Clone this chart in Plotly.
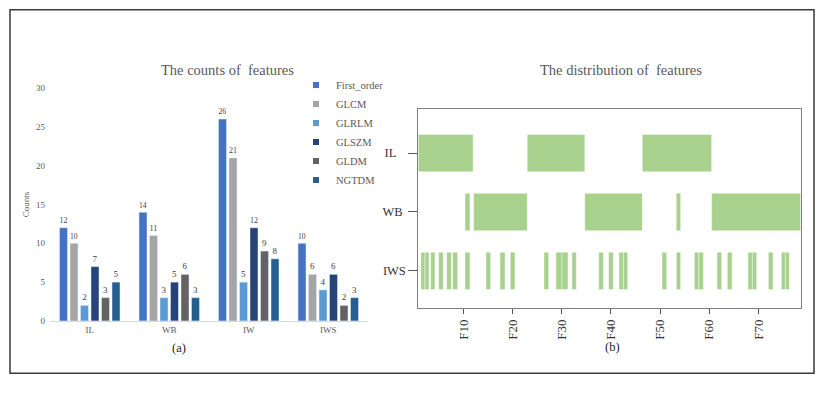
import plotly.graph_objects as go

OFF = 8  # page body margin of the browser
W, H = 836 - OFF, 400 - OFF
SERIF = "Liberation Serif"

# ---------------- (a) counts of features ----------------
groups = ["IL", "WB", "IW", "IWS"]
series_names = ["First_order", "GLCM", "GLRLM", "GLSZM", "GLDM", "NGTDM"]
first_order = [12, 14, 26, 10]
glcm = [10, 11, 21, 6]
glrlm = [2, 3, 5, 4]
glszm = [7, 5, 12, 6]
gldm = [3, 6, 9, 2]
ngtdm = [5, 3, 8, 3]
series_values = [first_order, glcm, glrlm, glszm, gldm, ngtdm]
series_colors = ["#4472C4", "#A5A5A5", "#5B9BD5", "#264478", "#636363", "#255E91"]

# ---------------- (b) distribution of features ----------------
rows = ["IWS", "WB", "IL"]  # bottom to top
il_start = [0.85, 23.0, 46.4]
il_end = [12.0, 34.7, 60.5]
wb_start = [10.35, 12.1, 34.7, 53.3, 60.5]
wb_end = [11.35, 23.0, 46.4, 54.2, 78.6]
iws_start = [1.39, 2.21, 3.36, 4.99, 6.61, 7.83, 10.34, 14.61, 17.46, 19.56,
             26.41, 28.85, 30.07, 32.1, 37.53, 39.56, 41.66, 42.55, 50.41, 53.32,
             56.98, 57.9, 61.6, 63.7, 67.9, 68.78, 72.04, 74.68, 75.49]
iws_end = [2.21, 3.02, 4.24, 5.93, 7.56, 8.85, 11.36, 15.56, 18.48, 20.51,
           27.36, 30.07, 31.29, 32.98, 38.49, 40.51, 42.55, 43.43, 51.36, 54.2,
           57.9, 58.82, 62.54, 64.65, 68.78, 69.66, 72.99, 75.49, 76.3]
x_ticks = [10, 20, 30, 40, 50, 60, 70]
x_tick_labels = ["F10", "F20", "F30", "F40", "F50", "F60", "F70"]


def px(x):
    return (x - OFF) / W


def py(y):
    return (H - (y - OFF)) / H


fig = go.Figure()

for name, vals, col in zip(series_names, series_values, series_colors):
    fig.add_trace(go.Bar(
        x=groups, y=vals, name=name, marker_color=col,
        text=vals, textposition="outside", cliponaxis=False,
        textfont=dict(family=SERIF, size=9, color="#404040"),
        showlegend=False, xaxis="x", yaxis="y",
    ))
    # legend entry with a small square key
    fig.add_trace(go.Scatter(
        x=[None], y=[None], mode="markers", name=name,
        marker=dict(symbol="square", size=6, color=col),
        legendgroup=name, xaxis="x", yaxis="y",
    ))

seg_y, seg_base, seg_len = [], [], []
for label, starts, ends in [("IL", il_start, il_end), ("WB", wb_start, wb_end),
                            ("IWS", iws_start, iws_end)]:
    for s, e in zip(starts, ends):
        seg_y.append(label)
        seg_base.append(s)
        seg_len.append(e - s)

fig.add_trace(go.Bar(
    y=seg_y, x=seg_len, base=seg_base, orientation="h", width=0.633,
    marker=dict(color="#A9D18E", line=dict(color="rgba(255,255,255,0.7)", width=0.6)),
    showlegend=False, xaxis="x2", yaxis="y2", hoverinfo="skip",
))

fig.update_layout(
    width=W, height=H,
    margin=dict(l=0, r=0, t=0, b=0),
    paper_bgcolor="white", plot_bgcolor="white",
    barmode="group", bargap=0.2075, bargroupgap=0.238,
    font=dict(family=SERIF, color="#595959"),
    showlegend=True,
    legend=dict(x=px(296), y=py(67), xanchor="left", yanchor="top",
                font=dict(family=SERIF, size=10.5, color="#595959"),
                bgcolor="rgba(0,0,0,0)", tracegroupgap=0, itemwidth=30),
    xaxis=dict(domain=[px(50), px(368)], anchor="y", showline=True,
               linecolor="#D9D9D9", linewidth=1, ticks="", showgrid=False,
               tickfont=dict(family=SERIF, size=9, color="#595959")),
    yaxis=dict(domain=[py(324), py(85)], anchor="x", range=[0, 30],
               tickvals=[0, 5, 10, 15, 20, 25, 30], showgrid=False, zeroline=False,
               showline=False, ticks="", ticklabelstandoff=4,
               tickfont=dict(family=SERIF, size=9, color="#595959"),
               title=dict(text="Counts", standoff=4,
                          font=dict(family=SERIF, size=9, color="#595959"))),
    xaxis2=dict(domain=[px(418.3), px(800.7)], anchor="y2", range=[0.85, 78.61],
                tickvals=x_ticks, ticktext=x_tick_labels, tickangle=-90,
                ticks="outside", ticklen=5, tickcolor="#595959",
                showline=True, mirror=True, linecolor="#7F7F7F", linewidth=1,
                showgrid=False, zeroline=False,
                tickfont=dict(family=SERIF, size=13, color="#333333")),
    yaxis2=dict(domain=[py(311), py(107)], anchor="x2", type="category",
                categoryorder="array", categoryarray=rows, range=[-0.633, 2.739],
                tickvals=rows, ticktext=["IWS", "WB\u00a0", "IL\u00a0\u00a0\u00a0"],
                ticks="outside", ticklen=9, tickcolor="#595959",
                showline=True, mirror=True, linecolor="#7F7F7F", linewidth=1,
                showgrid=False, zeroline=False,
                tickfont=dict(family=SERIF, size=12.5, color="#333333")),
    shapes=[dict(type="rect", xref="paper", yref="paper",
                 x0=px(10), x1=px(814), y0=py(377.7), y1=py(4.7),
                 line=dict(color="#3A3A3A", width=1.5))],
    annotations=[
        dict(text="The counts of\u00a0 features", x=px(227.3), y=py(66.7), xref="paper",
             yref="paper", showarrow=False, xanchor="center", yanchor="middle",
             font=dict(family=SERIF, size=14.5, color="#595959")),
        dict(text="The distribution of\u00a0 features", x=px(620.8), y=py(66), xref="paper",
             yref="paper", showarrow=False, xanchor="center", yanchor="middle",
             font=dict(family=SERIF, size=14.5, color="#595959")),
        dict(text="(a)", x=px(179), y=py(352), xref="paper", yref="paper",
             showarrow=False, xanchor="center", yanchor="middle",
             font=dict(family=SERIF, size=12.5, color="#222222")),
        dict(text="(b)", x=px(612), y=py(351), xref="paper", yref="paper",
             showarrow=False, xanchor="center", yanchor="middle",
             font=dict(family=SERIF, size=12.5, color="#222222")),
    ],
)

fig.write_html("out.html")
